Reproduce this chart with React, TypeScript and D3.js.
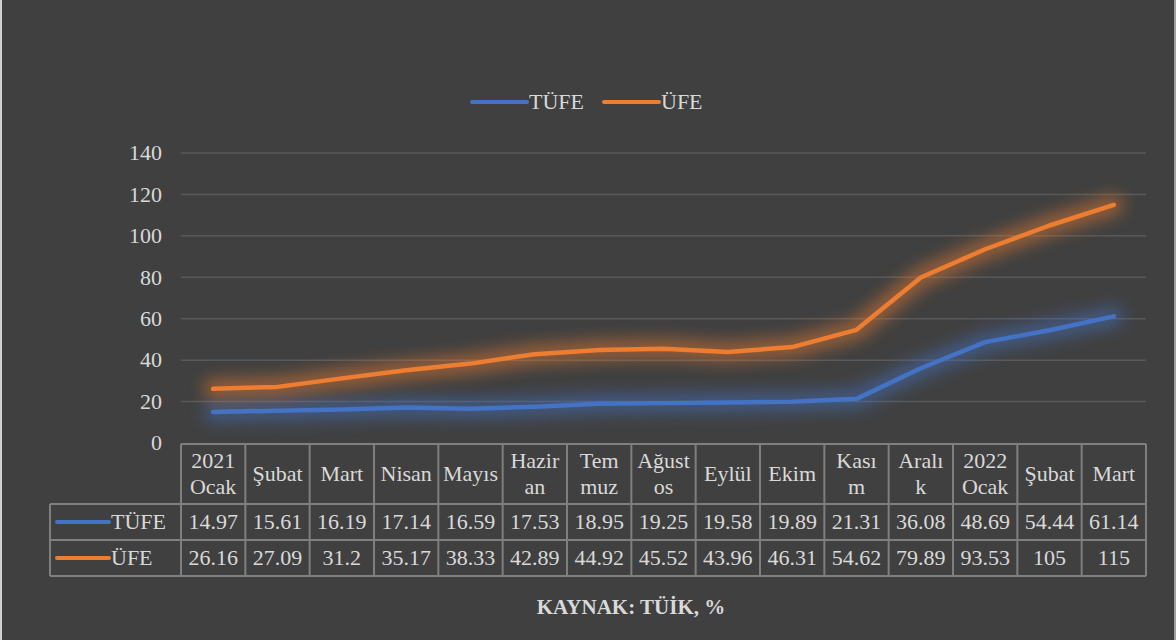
import React from "react";
import * as d3 from "d3";

const categories: string[][] = [
  ["2021", "Ocak"], ["Şubat"], ["Mart"], ["Nisan"], ["Mayıs"], ["Hazir", "an"], ["Tem", "muz"],
  ["Ağust", "os"], ["Eylül"], ["Ekim"], ["Kası", "m"], ["Aralı", "k"], ["2022", "Ocak"], ["Şubat"], ["Mart"],
];
const tufe: number[] = [14.97, 15.61, 16.19, 17.14, 16.59, 17.53, 18.95, 19.25, 19.58, 19.89, 21.31, 36.08, 48.69, 54.44, 61.14];
const ufe: number[] = [26.16, 27.09, 31.2, 35.17, 38.33, 42.89, 44.92, 45.52, 43.96, 46.31, 54.62, 79.89, 93.53, 105, 115];
const yTicks: number[] = [0, 20, 40, 60, 80, 100, 120, 140];
const seriesNames = ["TÜFE", "ÜFE"];
const caption = "KAYNAK: TÜİK, %";

const W = 1176, H = 640;
const BG = "#404040";
const TXT = "#d9d9d9";
const GRID = "#595959";
const BORDER = "#7f7f7f";
const COLORS = ["#4472C4", "#ED7D31"];
const FONT = "'Liberation Serif', Tinos, 'Times New Roman', Times, 'DejaVu Serif', serif";

export default function App() {
  const tableLeft = 50;
  const plotLeft = 181;
  const plotRight = 1146;
  const x = d3.scaleBand<number>().domain(d3.range(categories.length)).range([plotLeft, plotRight]).padding(0);
  const y = d3.scaleLinear().domain([0, 140]).range([443, 153]);
  const cx = (i: number) => (x(i) as number) + x.bandwidth() / 2;
  const line = d3.line<number>().x((_, i) => cx(i)).y((d) => y(d));
  const series = [tufe, ufe];

  const headTop = 444, headBot = 504, row1Bot = 540, row2Bot = 576;
  const fs = 22;
  const ts: React.CSSProperties = { fontFamily: FONT, fontSize: fs };

  return (
    <svg width={W} height={H} style={{ position: "absolute", left: 0, top: 0 }}>
      <defs>
        <filter id="glow" x="-20%" y="-60%" width="140%" height="220%">
          <feGaussianBlur in="SourceGraphic" stdDeviation="8" />
        </filter>
      </defs>
      <rect x={0} y={0} width={W} height={H} fill={BG} />
      <rect x={0} y={0} width={2} height={H} fill="#d0d0d0" />
      <rect x={W - 2} y={0} width={2} height={H} fill="#a0a0a0" />

      {/* legend */}
      {seriesNames.map((n, k) => {
        const lx = k === 0 ? 472 : 604;
        return (
          <g key={n}>
            <line x1={lx} x2={lx + 55} y1={102} y2={102} stroke={COLORS[k]} strokeWidth={4} strokeLinecap="round" />
            <text x={lx + 57} y={102} dy="0.33em" fill={TXT} style={ts}>{n}</text>
          </g>
        );
      })}

      {/* grid */}
      {yTicks.map((t) => (
        <g key={t}>
          {t > 0 && <line x1={plotLeft} x2={plotRight} y1={y(t)} y2={y(t)} stroke={GRID} strokeWidth={1.5} />}
          <text x={162} y={y(t)} dy="0.33em" textAnchor="end" fill={TXT} style={ts}>{t}</text>
        </g>
      ))}

      {/* lines with glow */}
      {series.map((s, k) => (
        <g key={k}>
          <path d={line(s) || ""} fill="none" stroke={COLORS[k]} strokeWidth={20} strokeLinejoin="round" strokeLinecap="round" filter="url(#glow)" opacity={0.5} />
          <path d={line(s) || ""} fill="none" stroke={COLORS[k]} strokeWidth={4.5} strokeLinejoin="round" strokeLinecap="round" />
        </g>
      ))}

      {/* table */}
      <g stroke={BORDER} strokeWidth={2} fill="none">
        <line x1={plotLeft} x2={plotRight} y1={headTop} y2={headTop} />
        <line x1={tableLeft} x2={plotRight} y1={headBot} y2={headBot} />
        <line x1={tableLeft} x2={plotRight} y1={row1Bot} y2={row1Bot} />
        <line x1={tableLeft} x2={plotRight} y1={row2Bot} y2={row2Bot} />
        <line x1={tableLeft} x2={tableLeft} y1={headBot} y2={row2Bot} />
        {d3.range(categories.length + 1).map((i) => {
          const xx = i < categories.length ? (x(i) as number) : plotRight;
          return <line key={i} x1={xx} x2={xx} y1={headTop} y2={row2Bot} />;
        })}
      </g>
      {categories.map((c, i) => (
        <text key={i} x={cx(i)} textAnchor="middle" fill={TXT} style={ts}>
          {c.length === 1 ? (
            <tspan x={cx(i)} y={(headTop + headBot) / 2} dy="0.33em">{c[0]}</tspan>
          ) : (
            c.map((p, j) => (
              <tspan key={j} x={cx(i)} y={(headTop + headBot) / 2 + (j === 0 ? -13 : 13)} dy="0.33em">{p}</tspan>
            ))
          )}
        </text>
      ))}
      {series.map((s, k) => {
        const top = k === 0 ? headBot : row1Bot;
        const bot = k === 0 ? row1Bot : row2Bot;
        const my = (top + bot) / 2;
        return (
          <g key={k}>
            <line x1={57} x2={109} y1={my} y2={my} stroke={COLORS[k]} strokeWidth={4} strokeLinecap="round" />
            <text x={111} y={my} dy="0.33em" fill={TXT} style={ts}>{seriesNames[k]}</text>
            {s.map((v, i) => (
              <text key={i} x={cx(i)} y={my} dy="0.33em" textAnchor="middle" fill={TXT} style={ts}>{v}</text>
            ))}
          </g>
        );
      })}

      <text x={631} y={607} dy="0.33em" textAnchor="middle" fill={TXT} style={{ fontFamily: FONT, fontSize: 21, fontWeight: "bold" }}>{caption}</text>
    </svg>
  );
}
